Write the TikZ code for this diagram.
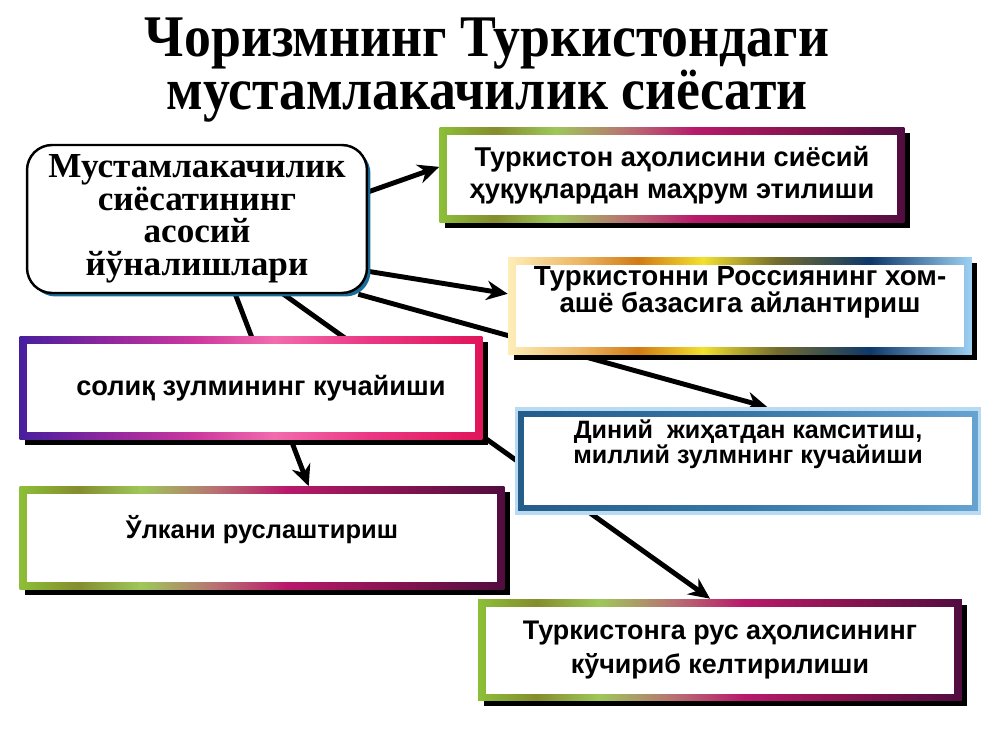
\documentclass[tikz,border=0pt]{standalone}
\usepackage{fontspec}
\setmainfont{Liberation Serif}
\setsansfont{Liberation Sans}
\usetikzlibrary{arrows.meta,shadows,backgrounds}

\definecolor{gpA}{rgb}{0.55,0.75,0.22}
\definecolor{gpB}{rgb}{0.52,0.55,0.18}
\definecolor{gpC}{rgb}{0.62,0.78,0.35}
\definecolor{gpD}{rgb}{0.72,0.45,0.45}
\definecolor{gpE}{rgb}{0.72,0.10,0.42}
\definecolor{gpF}{rgb}{0.55,0.08,0.32}
\definecolor{gpG}{rgb}{0.32,0.05,0.25}
\definecolor{ybA}{rgb}{1.00,0.93,0.72}
\definecolor{ybB}{rgb}{0.93,0.72,0.40}
\definecolor{ybC}{rgb}{0.82,0.48,0.08}
\definecolor{ybD}{rgb}{0.95,0.88,0.18}
\definecolor{ybE}{rgb}{0.45,0.42,0.18}
\definecolor{ybF}{rgb}{0.05,0.22,0.42}
\definecolor{ybG}{rgb}{0.62,0.82,0.95}
\definecolor{ppA}{rgb}{0.28,0.12,0.62}
\definecolor{ppB}{rgb}{0.55,0.15,0.62}
\definecolor{ppC}{rgb}{0.80,0.22,0.62}
\definecolor{ppD}{rgb}{0.95,0.42,0.68}
\definecolor{ppE}{rgb}{0.92,0.22,0.52}
\definecolor{ppF}{rgb}{0.88,0.08,0.35}
\definecolor{sbA}{rgb}{0.14,0.36,0.54}
\definecolor{sbB}{rgb}{0.22,0.47,0.65}
\definecolor{sbC}{rgb}{0.40,0.64,0.82}
\definecolor{glow}{rgb}{0.72,0.86,0.95}
\definecolor{mainshadow}{rgb}{0.10,0.42,0.60}

\pgfdeclarehorizontalshading{greenpurple}{100bp}{color(0bp)=(gpA); color(25bp)=(gpA); color(31bp)=(gpB); color(37.5bp)=(gpC); color(45bp)=(gpD); color(52.5bp)=(gpE); color(62.5bp)=(gpF); color(75bp)=(gpG); color(100bp)=(gpG)}
\pgfdeclarehorizontalshading{goldblue}{100bp}{color(0bp)=(ybA); color(25bp)=(ybA); color(32.5bp)=(ybB); color(39bp)=(ybC); color(46bp)=(ybD); color(54bp)=(ybE); color(64bp)=(ybF); color(75bp)=(ybG); color(100bp)=(ybG)}
\pgfdeclarehorizontalshading{purplepink}{100bp}{color(0bp)=(ppA); color(25bp)=(ppA); color(34bp)=(ppB); color(44bp)=(ppC); color(52.5bp)=(ppD); color(62.5bp)=(ppE); color(75bp)=(ppF); color(100bp)=(ppF)}
\pgfdeclarehorizontalshading{steelblue}{100bp}{color(0bp)=(sbA); color(25bp)=(sbA); color(50bp)=(sbB); color(75bp)=(sbC); color(100bp)=(sbC)}

\begin{document}
\begin{tikzpicture}[x=0.02cm,y=-0.02cm,>={Stealth[length=12pt,width=11pt]},
  framed/.style={rectangle,shade,shading=#1,
    path picture={\fill[white] ([shift={(0.15cm,-0.15cm)}]path picture bounding box.north west) rectangle ([shift={(-0.15cm,0.15cm)}]path picture bounding box.south east);},
    font=\sffamily\bfseries\fontsize{15.5pt}{18.5pt}\selectfont,align=center},
  shadowed/.style={drop shadow={shadow xshift=0.11cm,shadow yshift=-0.11cm,opacity=1,fill=black}},
  link/.style={->,line width=2.8pt}]
\useasboundingbox (0,0) rectangle (1000,750);

\node[font=\bfseries\fontsize{30pt}{27pt}\selectfont,align=center,xscale=1.02,yscale=1.12] (title) at (487,70) {Чоризмнинг Туркистондаги\\мустамлакачилик сиёсати};

\node[draw,line width=1.4pt,rounded corners=0.5cm,fill=white,
  drop shadow={shadow xshift=0.07cm,shadow yshift=-0.07cm,opacity=1,fill=mainshadow},
  minimum width=6.8cm,minimum height=2.96cm,align=center,
  font=\bfseries\fontsize{20pt}{18.5pt}\selectfont] (main) at (197,219)
  {Мустамлакачилик\\сиёсатининг\\асосий\\йўналишлари};

\node[framed=greenpurple,shadowed,minimum width=9.3cm,minimum height=1.9cm] (pol) at (672,175)
  {Туркистон аҳолисини сиёсий\\ҳуқуқлардан маҳрум этилиши};
\node[framed=goldblue,shadowed,minimum width=9.28cm,minimum height=1.96cm,
  font=\sffamily\bfseries\fontsize{15.8pt}{15.5pt}\selectfont,text depth=19pt] (raw) at (740,306)
  {Туркистонни Россиянинг хом-\\ашё базасига айлантириш};
\node[framed=purplepink,shadowed,minimum width=9.26cm,minimum height=2.06cm] (tax) at (251,388)
  {\hspace{0.4cm}солиқ зулмининг кучайиши};
\node[framed=steelblue,draw=glow,line width=2pt,minimum width=9.26cm,minimum height=2.08cm,
  font=\sffamily\bfseries\fontsize{14.3pt}{13.2pt}\selectfont,text depth=22pt] (rel) at (748,461)
  {Диний \ жиҳатдан камситиш,\\миллий зулмнинг кучайиши};
\node[framed=greenpurple,shadowed,minimum width=9.7cm,minimum height=2.06cm,
  font=\sffamily\bfseries\fontsize{14.5pt}{18pt}\selectfont,text depth=12pt] (rus) at (262,538)
  {Ўлкани руслаштириш};
\node[framed=greenpurple,shadowed,minimum width=9.68cm,minimum height=2.04cm,
  font=\sffamily\bfseries\fontsize{15.3pt}{19pt}\selectfont] (mig) at (720,650)
  {Туркистонга рус аҳолисининг\\кўчириб келтирилиши};

\begin{pgfonlayer}{background}
\draw[link] (main.9) -- (pol.178);
\draw[link] (main.-17) -- (raw.177.5);
\draw[link] (main.-25) -- (rel.70);
\draw[link] (main.-63) -- (rus.48.5);
\draw[link] (main.-41) -- (mig.101);
\end{pgfonlayer}
\end{tikzpicture}
\end{document}
